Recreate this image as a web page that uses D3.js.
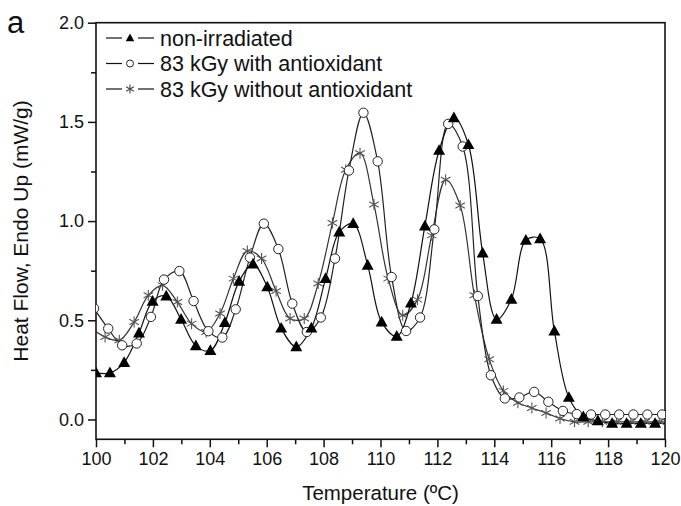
<!DOCTYPE html>
<html>
<head>
<meta charset="utf-8">
<script src="https://cdnjs.cloudflare.com/ajax/libs/d3/7.8.5/d3.min.js"></script>
<style>
  body { margin: 0; background: #fff; }
  text { font-family: "Liberation Sans", Arial, sans-serif; fill: #111; }
</style>
</head>
<body>
<div class="chart"></div>
<script>
// data
var triX = [100.0, 100.49, 100.99, 101.51, 101.99, 102.47, 102.99, 103.51, 104.02, 104.53, 105.03, 105.52, 106.02, 106.51, 107.04, 107.57, 108.07, 108.55, 109.04, 109.55, 110.04, 110.57, 111.07, 111.56, 112.06, 112.58, 113.09, 113.59, 114.08, 114.6, 115.11, 115.61, 116.11, 116.62, 117.13, 117.64, 118.14, 118.65, 119.15, 119.65];
var triY = [0.235, 0.235, 0.287, 0.436, 0.596, 0.622, 0.505, 0.371, 0.347, 0.488, 0.696, 0.783, 0.668, 0.46, 0.366, 0.461, 0.71, 0.945, 0.987, 0.777, 0.491, 0.419, 0.587, 0.975, 1.356, 1.521, 1.385, 0.839, 0.505, 0.606, 0.903, 0.911, 0.446, 0.111, 0.013, -0.007, -0.02, -0.02, -0.02, -0.02];

var circX = [99.93, 100.43, 100.92, 101.43, 101.93, 102.39, 102.93, 103.43, 103.95, 104.44, 104.91, 105.41, 105.9, 106.41, 106.9, 107.41, 107.9, 108.4, 108.89, 109.4, 109.9, 110.39, 110.9, 111.39, 111.89, 112.38, 112.89, 113.42, 113.88, 114.37, 114.88, 115.4, 115.9, 116.41, 116.9, 117.4, 117.9, 118.39, 118.89, 119.38, 119.9];
var circY = [0.56, 0.458, 0.374, 0.383, 0.517, 0.705, 0.748, 0.597, 0.445, 0.413, 0.555, 0.816, 0.987, 0.859, 0.584, 0.441, 0.514, 0.811, 1.255, 1.546, 1.301, 0.718, 0.446, 0.514, 0.958, 1.49, 1.376, 0.622, 0.223, 0.106, 0.111, 0.139, 0.089, 0.043, 0.027, 0.025, 0.025, 0.025, 0.025, 0.025, 0.025];

var starX = [99.82, 100.32, 100.82, 101.34, 101.84, 102.34, 102.86, 103.36, 103.87, 104.36, 104.83, 105.32, 105.82, 106.33, 106.82, 107.32, 107.81, 108.31, 108.78, 109.28, 109.77, 110.27, 110.78, 111.3, 111.8, 112.29, 112.8, 113.3, 113.82, 114.32, 114.83, 115.32, 115.82, 116.31, 116.82, 117.3, 117.8, 118.3, 118.8, 119.3, 119.8];
var starY = [0.46, 0.416, 0.399, 0.491, 0.626, 0.676, 0.592, 0.483, 0.441, 0.534, 0.71, 0.849, 0.811, 0.648, 0.509, 0.509, 0.685, 0.99, 1.259, 1.342, 1.084, 0.71, 0.525, 0.604, 0.928, 1.208, 1.079, 0.626, 0.304, 0.144, 0.084, 0.058, 0.033, 0.005, -0.012, -0.012, -0.012, -0.012, -0.012, -0.012, -0.012];

var legendLabels = ["non-irradiated", "83 kGy with antioxidant", "83 kGy without antioxidant"];
var xTicks = [100, 102, 104, 106, 108, 110, 112, 114, 116, 118, 120];
var yTicks = [0.0, 0.5, 1.0, 1.5, 2.0];

// chart setup
var svgWidth = 681;
var svgHeight = 506;
var margin = { top: 22.7, right: 16, bottom: 66.7, left: 96 };
var width = svgWidth - margin.left - margin.right;
var height = svgHeight - margin.top - margin.bottom;

var svg = d3.select(".chart")
  .append("svg")
  .attr("width", svgWidth)
  .attr("height", svgHeight);

var chart = svg.append("g")
  .attr("transform", "translate(" + margin.left + "," + margin.top + ")");

var xScale = d3.scaleLinear().domain([100, 120]).range([0, width]);
var yScale = d3.scaleLinear().domain([-0.1, 2.0]).range([height, 0]);

svg.append("defs").append("clipPath").attr("id", "plotclip")
  .append("rect").attr("width", width).attr("height", height);

// axes: major + minor, outward
var bottomAxis = d3.axisBottom(xScale).tickValues(xTicks).tickSize(8).tickPadding(5).tickFormat(d3.format("d"));
var bottomMinor = d3.axisBottom(xScale).tickValues(d3.range(101, 120, 2)).tickSize(5).tickFormat("");
var leftAxis = d3.axisLeft(yScale).tickValues(yTicks).tickSize(8).tickPadding(4).tickFormat(d3.format(".1f"));
var leftMinor = d3.axisLeft(yScale).tickValues([0.25, 0.75, 1.25, 1.75]).tickSize(5).tickFormat("");

function styleAxis(g) {
  g.select(".domain").remove();
  g.selectAll("line").attr("stroke", "#111").attr("stroke-width", 1.5);
  g.selectAll("text").style("font-size", "18px").attr("fill", "#111");
}

chart.append("g").attr("transform", "translate(0," + height + ")").call(bottomAxis).call(styleAxis);
chart.append("g").attr("transform", "translate(0," + height + ")").call(bottomMinor).call(styleAxis);
chart.append("g").call(leftAxis).call(styleAxis);
chart.append("g").call(leftMinor).call(styleAxis);

// frame
chart.append("rect")
  .attr("width", width).attr("height", height)
  .attr("fill", "none").attr("stroke", "#111").attr("stroke-width", 1.6);

// series
var line = d3.line()
  .x(function(d) { return xScale(d[0]); })
  .y(function(d) { return yScale(d[1]); })
  .curve(d3.curveCatmullRom.alpha(0.5));

var plot = chart.append("g").attr("clip-path", "url(#plotclip)");

function pairs(xs, ys) { return xs.map(function(x, i) { return [x, ys[i]]; }); }

var triData = pairs(triX, triY);
var circData = pairs(circX, circY);
var starData = pairs(starX, starY);

// extend the flat tails to the right edge
[triData, circData, starData].forEach(function(s) {
  var last = s[s.length - 1];
  s.push([120.2, last[1]]);
});

plot.append("path").datum(starData).attr("d", line)
  .attr("fill", "none").attr("stroke", "#333").attr("stroke-width", 1.2);
plot.append("path").datum(circData).attr("d", line)
  .attr("fill", "none").attr("stroke", "#222").attr("stroke-width", 1.2);
plot.append("path").datum(triData).attr("d", line)
  .attr("fill", "none").attr("stroke", "#111").attr("stroke-width", 1.2);

function triPath(s) {
  return "M0," + (-s) + "L" + (s * 0.95) + "," + (s * 0.7) + "L" + (-s * 0.95) + "," + (s * 0.7) + "Z";
}
function starPath(s) {
  var p = "";
  [90, 30, 150].forEach(function(a) {
    var r = a * Math.PI / 180;
    var dx = Math.cos(r) * s, dy = Math.sin(r) * s;
    p += "M" + (-dx) + "," + (-dy) + "L" + dx + "," + dy;
  });
  return p;
}

plot.selectAll(".star").data(starX).enter().append("path")
  .attr("transform", function(d, i) { return "translate(" + xScale(d) + "," + yScale(starY[i]) + ")"; })
  .attr("d", starPath(5.5))
  .attr("stroke", "#555").attr("stroke-width", 1.1).attr("fill", "none");

plot.selectAll(".circ").data(circX).enter().append("circle")
  .attr("cx", function(d) { return xScale(d); })
  .attr("cy", function(d, i) { return yScale(circY[i]); })
  .attr("r", 4.7)
  .attr("fill", "#fff").attr("stroke", "#222").attr("stroke-width", 1);

plot.selectAll(".tri").data(triX).enter().append("path")
  .attr("transform", function(d, i) { return "translate(" + xScale(d) + "," + yScale(triY[i]) + ")"; })
  .attr("d", triPath(6.3))
  .attr("fill", "#000");

// legend
var legend = svg.append("g");
var legendY = [38, 63.5, 89];
legendLabels.forEach(function(label, i) {
  var g = legend.append("g").attr("transform", "translate(0," + legendY[i] + ")");
  g.append("line").attr("x1", 106).attr("x2", 122).attr("y1", 0).attr("y2", 0)
    .attr("stroke", "#111").attr("stroke-width", 1.2);
  g.append("line").attr("x1", 138).attr("x2", 154).attr("y1", 0).attr("y2", 0)
    .attr("stroke", "#111").attr("stroke-width", 1.2);
  if (i === 0) {
    g.append("path").attr("transform", "translate(130,0)").attr("d", triPath(4.5)).attr("fill", "#000");
  } else if (i === 1) {
    g.append("circle").attr("cx", 130).attr("cy", 0).attr("r", 3.5)
      .attr("fill", "#fff").attr("stroke", "#222").attr("stroke-width", 1);
  } else {
    g.append("path").attr("transform", "translate(130,0)").attr("d", starPath(4.5))
      .attr("stroke", "#444").attr("stroke-width", 1.1);
  }
  g.append("text").attr("x", 160).attr("y", 7.5).style("font-size", "21.5px").text(label);
});

// axis titles
svg.append("text")
  .attr("x", margin.left + width / 2).attr("y", 500)
  .style("text-anchor", "middle").style("font-size", "20.5px")
  .text("Temperature (ºC)");

svg.append("text")
  .attr("transform", "translate(28," + (margin.top + height / 2) + ") rotate(-90)")
  .style("text-anchor", "middle").style("font-size", "21px")
  .text("Heat Flow, Endo Up (mW/g)");

svg.append("text")
  .attr("x", 7).attr("y", 33)
  .style("font-size", "31px")
  .text("a");
</script>
</body>
</html>
